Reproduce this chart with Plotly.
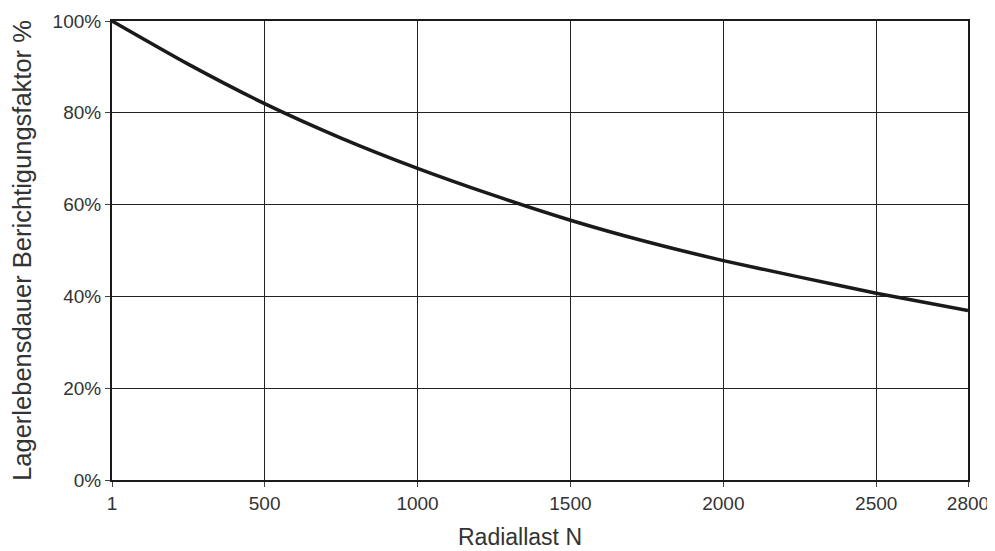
import plotly.graph_objects as go

# Radiallast N
radiallast = [1, 250, 500, 750, 1000, 1250, 1500, 1750, 2000, 2250, 2500, 2800]
# Berichtigungsfaktor in %
faktor = [100, 90.6, 82.0, 74.5, 67.9, 62.0, 56.6, 51.9, 47.8, 44.2, 40.7, 36.9]

x_ticks = [1, 500, 1000, 1500, 2000, 2500, 2800]
y_ticks = [0, 20, 40, 60, 80, 100]

fig = go.Figure()
fig.add_trace(go.Scatter(
    x=radiallast, y=faktor, mode="lines",
    line=dict(color="#1a1a1a", width=3.5, shape="spline", smoothing=0.6),
    showlegend=False, hoverinfo="skip"
))

fig.update_xaxes(
    range=[1, 2800], tickvals=x_ticks, ticktext=[str(v) for v in x_ticks],
    showgrid=True, gridcolor="#222222", gridwidth=1,
    showline=True, linecolor="#1a1a1a", linewidth=2, mirror=True,
    ticks="outside", ticklen=5, tickcolor="#444444", tickwidth=1,
    tickfont=dict(size=19, color="#333333"),
    zeroline=False, automargin=False
)
fig.update_yaxes(
    range=[0, 100], tickvals=y_ticks, ticktext=[f"{v}%" for v in y_ticks],
    showgrid=True, gridcolor="#222222", gridwidth=1,
    showline=True, linecolor="#1a1a1a", linewidth=2, mirror=True,
    ticks="outside", ticklen=5, tickcolor="#444444", tickwidth=1,
    tickfont=dict(size=19, color="#333333"),
    title=dict(text="Lagerlebensdauer Berichtigungsfaktor %", font=dict(size=25.5, color="#333333"), standoff=14),
    zeroline=False, automargin=False
)

# x-Achsentitel als Annotation (leicht links von der Mitte)
fig.add_annotation(
    text="Radiallast N", xref="paper", yref="paper", x=0.477, y=0,
    yshift=-57, xanchor="center", yanchor="middle", showarrow=False,
    font=dict(size=23, color="#333333")
)

fig.update_layout(
    width=987, height=543,
    plot_bgcolor="white",
    paper_bgcolor="white",
    font=dict(family="Liberation Sans, Arial, sans-serif"),
    margin=dict(t=13, b=71, l=104, r=27)
)

fig.write_html("out.html")
